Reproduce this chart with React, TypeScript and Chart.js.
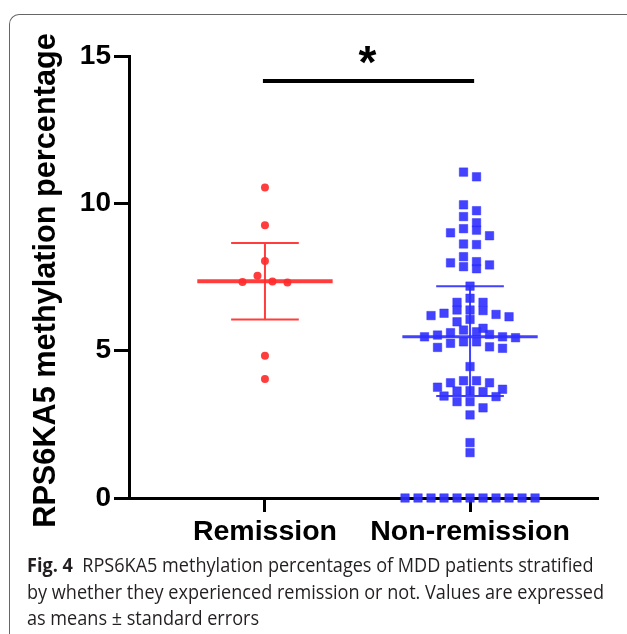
import React, { useEffect, useRef } from "react";
import { Chart, registerables } from "chart.js";

Chart.register(...registerables);

const categories = ["Remission", "Non-remission"];
const remissionValues = [10.54, 9.26, 8.04, 7.54, 7.35, 7.33, 7.31, 4.83, 4.04];
const nonRemissionValues = [
  11.06, 10.9, 9.95, 9.75, 9.55, 9.34, 9.14, 9.09, 9.0, 8.9, 8.62, 8.6, 8.19, 8.02, 7.98, 7.91, 7.85, 7.78, 7.19,
  6.78, 6.64, 6.64, 6.38, 6.38, 6.36, 6.27, 6.23, 6.19, 6.15, 6.06, 5.98, 5.76, 5.7, 5.64, 5.61, 5.55, 5.53,
  5.47, 5.47, 5.44, 5.3, 5.3, 5.25, 5.13, 5.11, 5.08,
  4.46, 3.98, 3.98, 3.91, 3.91, 3.76, 3.69, 3.64, 3.63, 3.61, 3.46, 3.44, 3.27, 3.27, 3.06, 2.82,
  1.88, 1.54,
  0, 0, 0, 0, 0, 0, 0, 0, 0, 0, 0,
];
const groupMeans = [7.36, 5.47];
const errorLow = [6.06, 3.46];
const errorHigh = [8.65, 7.19];
const yTicks = [0, 5, 10, 15];
const yTitle = "RPS6KA5 methylation percentage";
const significanceLabel = "*";
const significanceBarLevel = 14.15;
const significanceStarLevel = 15.02;
const captionLines = [
  ["Fig. 4", "RPS6KA5 methylation percentages of MDD patients stratified"],
  ["", "by whether they experienced remission or not. Values are expressed"],
  ["", "as means ± standard errors"],
];

const RED = "rgba(255, 45, 45, 0.92)";
const BLUE = "rgba(45, 45, 255, 0.9)";
const FONT = "'Liberation Sans', Arial, sans-serif";

// GraphPad-like scatter-dot arrangement: values chained into rows (within rowHeight of the
// row's first value), each row centred on the category
function dotRows(values: number[], center: number, step: number, rowHeight: number) {
  const sorted = [...values].sort((a, b) => b - a);
  const rows: number[][] = [];
  sorted.forEach((v) => {
    const last = rows[rows.length - 1];
    if (last && last[0] - v < rowHeight) last.push(v);
    else rows.push([v]);
  });
  const pts: { x: number; y: number }[] = [];
  rows.forEach((row) => {
    const n = row.length;
    const slots: number[] = [];
    for (let i = 0; i < n; i++) slots.push(i - (n - 1) / 2);
    slots.sort((a, b) => Math.abs(a) - Math.abs(b) || a - b);
    row.forEach((v, i) => pts.push({ x: center + slots[i] * step, y: v }));
  });
  return pts;
}

function errorDatasets(i: number, color: string, meanWidth: number) {
  const c = i + 1;
  return [
    {
      type: "line" as const,
      data: [
        { x: c - 0.33, y: groupMeans[i] },
        { x: c + 0.33, y: groupMeans[i] },
      ],
      borderColor: color,
      borderWidth: meanWidth,
      pointRadius: 0,
      clip: false,
    },
    {
      type: "line" as const,
      data: [
        { x: c, y: errorLow[i] },
        { x: c, y: errorHigh[i] },
        { x: c, y: null },
        { x: c - 0.165, y: errorHigh[i] },
        { x: c + 0.165, y: errorHigh[i] },
        { x: c, y: null },
        { x: c - 0.165, y: errorLow[i] },
        { x: c + 0.165, y: errorLow[i] },
      ],
      borderColor: color,
      borderWidth: 2,
      pointRadius: 0,
      spanGaps: false,
      clip: false,
    },
  ];
}

const textPlugin = {
  id: "extraText",
  afterDatasetsDraw(chart: any) {
    const { ctx, scales } = chart;
    const x = scales.x.getPixelForValue(1.5);
    const y = scales.y.getPixelForValue(significanceStarLevel);
    ctx.save();
    ctx.font = `bold 46px ${FONT}`;
    ctx.fillStyle = "#000";
    ctx.textAlign = "center";
    ctx.textBaseline = "alphabetic";
    const m = ctx.measureText(significanceLabel);
    ctx.fillText(significanceLabel, x, y + (m.actualBoundingBoxAscent - m.actualBoundingBoxDescent) / 2);
    ctx.restore();

    const yMid = (scales.y.top + scales.y.bottom) / 2 + 3.5;
    ctx.save();
    ctx.translate(55, yMid);
    ctx.rotate(-Math.PI / 2);
    ctx.font = `bold 30.7px ${FONT}`;
    ctx.fillStyle = "#000";
    ctx.textAlign = "center";
    ctx.textBaseline = "alphabetic";
    ctx.fillText(yTitle, 0, 0);
    ctx.restore();
  },
};

export default function App() {
  const ref = useRef<HTMLCanvasElement>(null);
  const capRef = useRef<HTMLDivElement>(null);
  const line2Ref = useRef<HTMLSpanElement>(null);

  useEffect(() => {
    if (capRef.current && line2Ref.current) {
      const w = line2Ref.current.getBoundingClientRect().width;
      if (w > 0) capRef.current.style.transform = `scaleX(${577 / w})`;
    }
    if (!ref.current) return;
    const font = { family: FONT, weight: "bold" as const };
    const chart = new Chart(ref.current, {
      type: "scatter",
      data: {
        datasets: [
          ...errorDatasets(0, RED, 4),
          ...errorDatasets(1, BLUE, 3),
          {
            type: "line" as const,
            data: [
              { x: 0.99, y: significanceBarLevel },
              { x: 2.02, y: significanceBarLevel },
            ],
            borderColor: "#000",
            borderWidth: 4,
            pointRadius: 0,
            clip: false,
          },
          {
            data: dotRows(remissionValues, 1, 0.073, 0.3),
            backgroundColor: RED,
            borderWidth: 0,
            pointRadius: 4,
            pointStyle: "circle",
            clip: false,
          },
          {
            data: dotRows(nonRemissionValues, 2, 0.0634, 0.3),
            backgroundColor: BLUE,
            borderColor: "rgba(45,45,255,0.45)",
            borderWidth: 1,
            pointRadius: 6,
            pointStyle: "rect",
            clip: false,
          },
        ] as any,
      },
      options: {
        animation: false,
        responsive: false,
        events: [],
        layout: { padding: { left: 0, top: 56, right: 29, bottom: 76 } },
        plugins: { legend: { display: false }, tooltip: { enabled: false } },
        scales: {
          x: {
            type: "linear",
            min: 0.337,
            max: 2.624,
            afterBuildTicks: (s: any) => {
              s.ticks = categories.map((_, i) => ({ value: i + 1 }));
            },
            afterFit: (s: any) => {
              s.height = 60;
            },
            ticks: {
              callback: (v: any) => categories[Math.round(v) - 1] ?? "",
              color: "#000",
              font: { ...font, size: 28.5 },
              padding: 3,
              maxRotation: 0,
              autoSkip: false,
            },
            grid: {
              drawOnChartArea: false,
              drawTicks: true,
              tickLength: 14,
              tickWidth: 3,
              tickColor: "#000",
            },
            border: { display: true, width: 3, color: "#000" },
          },
          y: {
            type: "linear",
            min: 0,
            max: 15,
            afterBuildTicks: (s: any) => {
              s.ticks = yTicks.map((v) => ({ value: v }));
            },
            afterFit: (s: any) => {
              s.width = 129;
            },
            ticks: {
              color: "#000",
              font: { ...font, size: 28 },
              padding: 3,
            },
            grid: {
              drawOnChartArea: false,
              drawTicks: true,
              tickLength: 15,
              tickWidth: 3,
              tickColor: "#000",
            },
            border: { display: true, width: 3, color: "#000" },
          },
        },
      },
      plugins: [textPlugin],
    } as any);
    return () => chart.destroy();
  }, []);

  return (
    <div style={{ position: "absolute", left: 0, top: 0, width: 627, height: 634, overflow: "hidden", background: "#fff" }}>
      <div
        style={{
          position: "absolute",
          left: 9,
          top: 14,
          width: 640,
          height: 700,
          borderTop: "1.5px solid #666",
          borderLeft: "1.5px solid #666",
          borderTopLeftRadius: 10,
        }}
      />
      <canvas ref={ref} width={627} height={634} style={{ position: "absolute", left: 0, top: 0 }} />
      <div
        ref={capRef}
        style={{
          position: "absolute",
          left: 27,
          top: 552,
          fontFamily: "'Open Sans', 'Noto Sans', sans-serif",
          fontSize: 19.5,
          lineHeight: "26.5px",
          color: "#231f20",
          whiteSpace: "nowrap",
          transformOrigin: "0 0",
        }}
      >
        {captionLines.map((ln, i) => (
          <div key={i}>
            <span ref={i === 1 ? line2Ref : undefined}>
              {ln[0] ? <b>{ln[0]}</b> : null}
              {ln[0] ? "\u00a0\u00a0" : ""}
              {ln[1]}
            </span>
          </div>
        ))}
      </div>
    </div>
  );
}
